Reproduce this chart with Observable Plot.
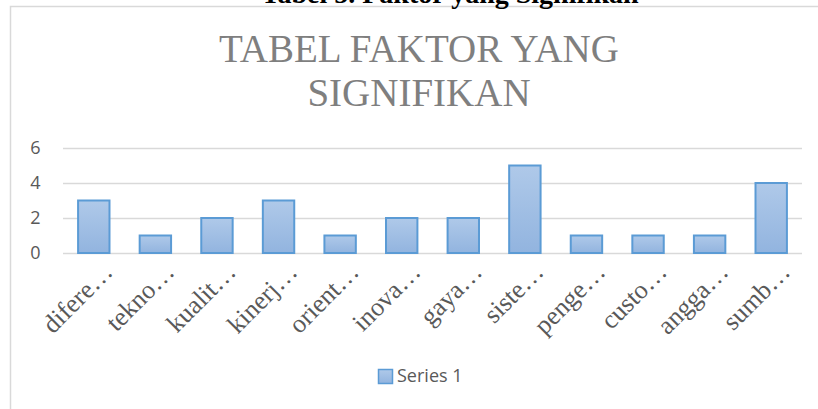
<!DOCTYPE html>
<html>
<head>
<meta charset="utf-8">
<script src="https://cdn.jsdelivr.net/npm/d3@7"></script>
<script src="https://cdn.jsdelivr.net/npm/@observablehq/plot@0.6"></script>
<style>
  html, body { margin: 0; padding: 0; background: #fff; }
  #wrap { position: relative; width: 818px; height: 409px; overflow: hidden; }
  #wrap svg { position: absolute; left: 0; top: 0; }
</style>
</head>
<body>
<div id="wrap"></div>
<script>
const categories = ["difere…","tekno…","kualit…","kinerj…","orient…","inova…","gaya…","siste…","penge…","custo…","angga…","sumb…"];
const values = [3,1,2,3,1,2,2,5,1,1,1,4];
const yTicks = [0,2,4,6];
const seriesName = "Series 1";
const chartTitle = ["TABEL FAKTOR YANG", "SIGNIFIKAN"];
const docCaption = "Tabel 5. Faktor yang Signifikan";

const data = categories.map((c, i) => ({cat: c, value: values[i]}));

const serif = "'Liberation Serif', 'Times New Roman', Times, serif";

const plot = Plot.plot({
  width: 818,
  height: 409,
  marginLeft: 63,
  marginRight: 16,
  marginTop: 148,
  marginBottom: 156,
  x: {domain: categories, paddingInner: 0.49, paddingOuter: 0.245, round: false, label: null},
  y: {domain: [0, 6], ticks: yTicks, label: null},
  style: {background: "transparent"},
  marks: [
    Plot.gridY(yTicks, {stroke: "#d9d9d9", strokeOpacity: 1, strokeWidth: 1.5}),
    Plot.barY(data, {x: "cat", y: "value", fill: "url(#barGrad)", stroke: "#5b9bd5", strokeWidth: 2}),
    Plot.axisY({ticks: yTicks, tickFormat: d3.format("d"), tickSize: 0, tickPadding: 23, fontSize: 18, fontFamily: "Open Sans", fill: "#595959", label: null}),
    Plot.axisX({tickSize: 0, tickRotate: -45, tickPadding: 14, dx: 14, fontSize: 26, fontFamily: serif, fill: "#595959", label: null})
  ]
});

const defs = d3.select(plot).insert("defs", ":first-child");
const g = defs.append("linearGradient").attr("id", "barGrad").attr("x1", 0).attr("y1", 0).attr("x2", 0).attr("y2", 1);
g.append("stop").attr("offset", "0%").attr("stop-color", "#afc9e9");
g.append("stop").attr("offset", "100%").attr("stop-color", "#92b4df");

const wrap = document.getElementById("wrap");
wrap.appendChild(plot);

// overlay for frame, titles and legend
const ov = d3.select(wrap).append("svg").attr("width", 818).attr("height", 409);
const od = ov.append("defs");
const g2 = od.append("linearGradient").attr("id", "legGrad").attr("x1", 0).attr("y1", 0).attr("x2", 0).attr("y2", 1);
g2.append("stop").attr("offset", "0%").attr("stop-color", "#afc9e9");
g2.append("stop").attr("offset", "100%").attr("stop-color", "#92b4df");

ov.append("path").attr("d", "M10.5,420 V6.5 H830").attr("fill", "none").attr("stroke", "#d9d9d9").attr("stroke-width", 1.5);

ov.append("text").attr("x", 450).attr("y", 3).attr("text-anchor", "middle")
  .style("font-family", serif).attr("font-weight", "bold").attr("font-size", 28).attr("fill", "#000")
  .text(docCaption);

chartTitle.forEach((t, i) => {
  ov.append("text").attr("x", 419).attr("y", 62 + i * 44).attr("text-anchor", "middle")
    .style("font-family", serif).attr("font-size", 39).attr("fill", "#7f7f7f")
    .text(t);
});

ov.append("rect").attr("x", 378.5).attr("y", 369.5).attr("width", 14).attr("height", 14)
  .attr("fill", "url(#legGrad)").attr("stroke", "#5b9bd5").attr("stroke-width", 1.5);
ov.append("text").attr("x", 397).attr("y", 382).style("font-family", "'Open Sans', sans-serif").attr("font-size", 18).attr("fill", "#595959")
  .text(seriesName);
</script>
</body>
</html>
